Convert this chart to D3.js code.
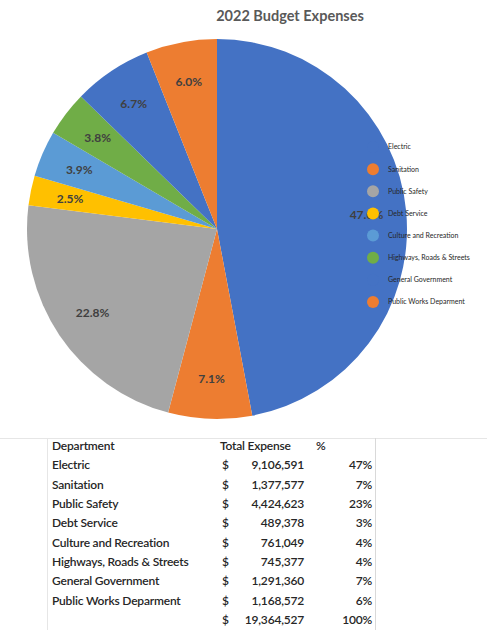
<!DOCTYPE html>
<html>
<head>
<meta charset="utf-8">
<script src="https://cdn.jsdelivr.net/npm/d3@7"></script>
<style>
  html, body { margin: 0; padding: 0; background: #fff; }
  svg { display: block; }
</style>
</head>
<body>
<svg id="chart" width="487" height="630"></svg>
<script>
const title = "2022 Budget Expenses";
const departments = ["Electric", "Sanitation", "Public Safety", "Debt Service", "Culture and Recreation", "Highways, Roads & Streets", "General Government", "Public Works Deparment"];
const expenses = [9106591, 1377577, 4424623, 489378, 761049, 745377, 1291360, 1168572];
const sliceColors = ["#4472C4", "#ED7D31", "#A5A5A5", "#FFC000", "#5B9BD5", "#70AD47", "#4472C4", "#ED7D31"];
const tableHeaders = ["Department", "Total Expense", "%"];

const svg = d3.select("#chart");
const total = d3.sum(expenses);
const data = departments.map((d, i) => ({ name: d, value: expenses[i], color: sliceColors[i] }));

// Title
svg.append("text")
  .attr("x", 290).attr("y", 21)
  .attr("text-anchor", "middle")
  .attr("font-family", "Lato, 'Open Sans', sans-serif")
  .attr("font-weight", "bold")
  .attr("font-size", 14.5)
  .attr("fill", "#595959")
  .text(title);

// Pie
const cx = 217, cy = 229, r = 190;
const pie = d3.pie().sort(null).value(d => d.value);
const arcs = pie(data);
const arc = d3.arc().innerRadius(0).outerRadius(r);
const labelArc = d3.arc().innerRadius(r * 0.79).outerRadius(r * 0.79);
const g = svg.append("g").attr("transform", `translate(${cx},${cy})`);
g.selectAll("path.slice").data(arcs).enter().append("path")
  .attr("class", "slice")
  .attr("d", arc)
  .attr("fill", d => d.data.color);

const pctFmt = d3.format(".1%");
g.selectAll("text.lbl").data(arcs).enter().append("text")
  .attr("class", "lbl")
  .attr("transform", d => `translate(${labelArc.centroid(d)})`)
  .attr("text-anchor", "middle")
  .attr("dy", "0.35em")
  .attr("font-family", "Lato, 'Open Sans', sans-serif")
  .attr("font-weight", "bold")
  .attr("font-size", 12)
  .attr("fill", "#404040")
  .text(d => pctFmt(d.data.value / total));

// Legend
const legendY = d3.scalePoint().domain(departments).range([147, 302]);
const lg = svg.append("g");
const li = lg.selectAll("g").data(data).enter().append("g")
  .attr("transform", d => `translate(373,${legendY(d.name)})`);
li.append("circle").attr("r", 6).attr("fill", d => d.color);
li.append("text")
  .attr("x", 15).attr("dy", "0.35em")
  .attr("font-family", "Lato, 'Open Sans', sans-serif")
  .attr("font-size", 7)
  .attr("fill", "#262626")
  .text(d => d.name);

// Table
const tg = svg.append("g")
  .attr("font-family", "Lato, 'Open Sans', sans-serif")
  .attr("font-size", 12)
  .attr("letter-spacing", "-0.2px")
  .attr("fill", "#262626");
tg.append("line").attr("x1", 0).attr("x2", 487).attr("y1", 438.5).attr("y2", 438.5).attr("stroke", "#e6e6e6");
tg.append("line").attr("x1", 47.5).attr("x2", 47.5).attr("y1", 438).attr("y2", 630).attr("stroke", "#e6e6e6");
tg.append("line").attr("x1", 375.5).attr("x2", 375.5).attr("y1", 438).attr("y2", 630).attr("stroke", "#d9d9d9");

const rowY = d3.scaleLinear().domain([0, 9]).range([450, 624]);
const numFmt = d3.format(",");
const pct0 = d3.format(".0%");
const hdr = tg.append("g").attr("font-weight", 600);
hdr.append("text").attr("x", 52).attr("y", rowY(0)).text(tableHeaders[0]);
hdr.append("text").attr("x", 220).attr("y", rowY(0)).text(tableHeaders[1]);
hdr.append("text").attr("x", 316).attr("y", rowY(0)).text(tableHeaders[2]);

const rows = tg.selectAll("g.row").data(data.concat([{ name: "", value: total }])).enter().append("g")
  .attr("class", "row")
  .attr("font-weight", 600)
  .attr("transform", (d, i) => `translate(0,${rowY(i + 1)})`);
rows.append("text").attr("x", 52).text(d => d.name);
rows.append("text").attr("x", 222).text("$");
rows.append("text").attr("x", 304).attr("text-anchor", "end").text(d => numFmt(d.value));
rows.append("text").attr("x", 372).attr("text-anchor", "end").text(d => pct0(d.value / total));
</script>
</body>
</html>
